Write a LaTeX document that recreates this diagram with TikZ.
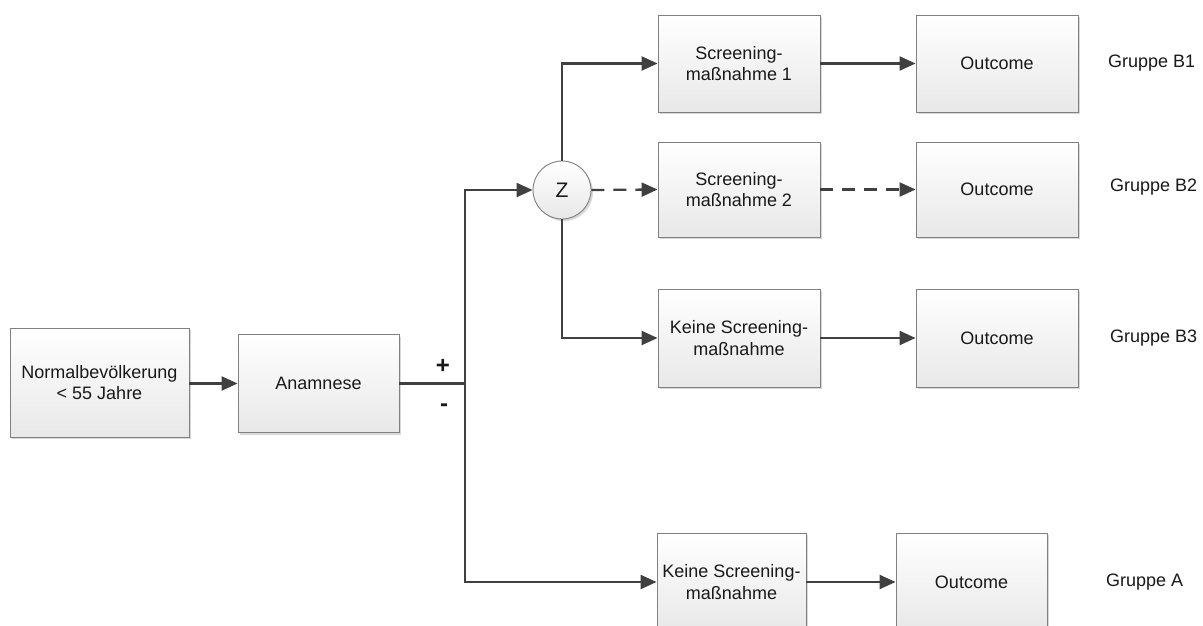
\documentclass[tikz,border=0pt]{standalone}
\usepackage{fontspec}
\setmainfont{Liberation Sans}
\usetikzlibrary{arrows.meta,shadows}
\begin{document}
\begin{tikzpicture}[x=1pt,y=-1pt,
  box/.style={draw=black!50, line width=0.9pt, top color=white, bottom color=black!9,
    drop shadow={shadow xshift=2pt, shadow yshift=-2pt, opacity=0.25, fill=black!60},
    inner sep=0pt, align=center, font=\fontsize{18}{21.5}\selectfont, text=black!90},
  circ/.style={circle, draw=black!50, line width=0.9pt, top color=white, bottom color=black!9,
    drop shadow={shadow xshift=2pt, shadow yshift=-2pt, opacity=0.25, fill=black!60},
    minimum size=58pt, inner sep=0pt, font=\fontsize{21}{21}\selectfont, text=black!90},
  conn/.style={draw=black!75, line width=2.3pt},
  arr/.style={conn, -{Triangle[length=16pt,width=14pt]}},
  dsh/.style={dash pattern=on 13pt off 9pt},
  grp/.style={anchor=west, font=\fontsize{18}{21.5}\selectfont, text=black!90, inner sep=0pt},
  sign/.style={font=\fontsize{24}{24}\bfseries, text=black!90, inner sep=0pt}
]
\useasboundingbox (0,0) rectangle (1203,625);
\fill[white] (0,0) rectangle (1203,625);

\node[box, minimum width=179pt, minimum height=109pt] (n1) at (99.5,382.5) {Normalbevölkerung\\< 55 Jahre};
\node[box, minimum width=161pt, minimum height=98pt] (anam) at (318.5,383.5) {Anamnese};

\node[circ] (z) at (562,190) {Z};

\node[box, minimum width=162pt, minimum height=97pt] (s1) at (739,63.5) {Screening-\\maßnahme 1};
\node[box, minimum width=162pt, minimum height=95pt] (s2) at (739,189.5) {Screening-\\maßnahme 2};
\node[box, minimum width=162pt, minimum height=98pt] (k3) at (739,338) {Keine Screening-\\maßnahme};
\node[box, minimum width=149pt, minimum height=98pt] (kA) at (731.5,582) {Keine Screening-\\maßnahme};

\node[box, minimum width=162pt, minimum height=97pt] (o1) at (997,63.5) {Outcome};
\node[box, minimum width=162pt, minimum height=95pt] (o2) at (997,189.5) {Outcome};
\node[box, minimum width=162pt, minimum height=98pt] (o3) at (997,338) {Outcome};
\node[box, minimum width=151pt, minimum height=98pt] (oA) at (971.5,582) {Outcome};

\node[grp] (g1) at (1108,63.5) {Gruppe B1};
\node[grp] (g2) at (1110,187) {Gruppe B2};
\node[grp] (g3) at (1110,338) {Gruppe B3};
\node[grp] (gA) at (1106,582) {Gruppe A};

\node[sign] (plus) at (443,366) {+};
\node[sign] (minus) at (444,408) {-};

\coordinate (jtop) at (465,190);
\coordinate (jmid) at (465,383.5);
\coordinate (jbot) at (465,582);

\draw[arr] (n1.east |- anam.west) -- (anam.west);
\draw[conn] (anam.east) -- (jmid);
\draw[conn, line cap=rect] (jtop) -- (jbot);
\draw[arr] (jtop) -- (z.west);
\draw[arr] (jbot) -- (kA.west);
\draw[arr] (z.north) |- (s1.west);
\draw[arr] (z.south) |- (k3.west);
\draw[arr, dsh] (z.east) -- (s2.west);
\draw[arr] (s1.east) -- (o1.west);
\draw[arr, dsh] (s2.east) -- (o2.west);
\draw[arr] (k3.east) -- (o3.west);
\draw[arr] (kA.east) -- (oA.west);
\end{tikzpicture}
\end{document}
